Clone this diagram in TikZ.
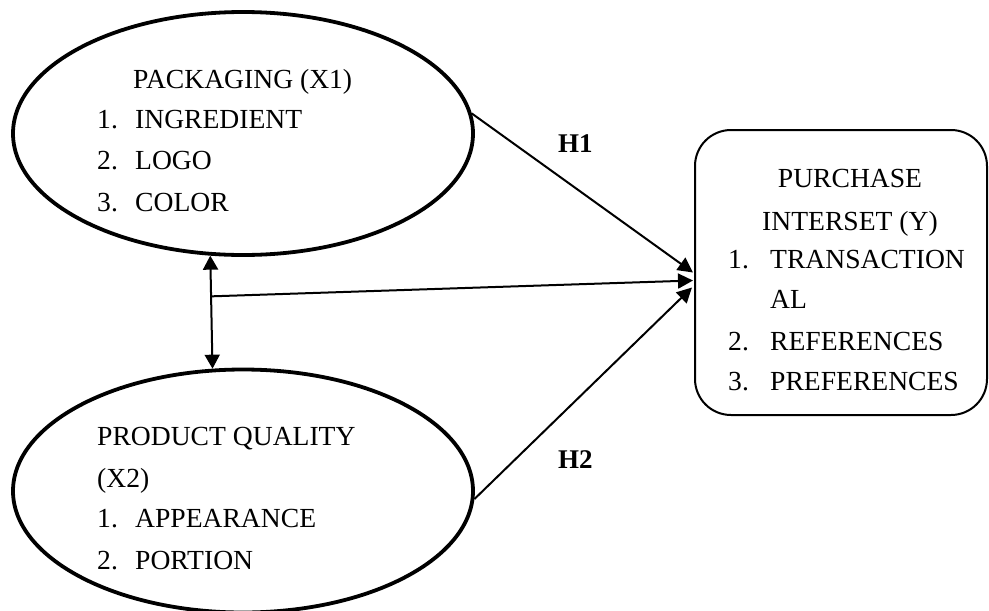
\documentclass[tikz,border=0pt]{standalone}
\usepackage{fontspec}
\setmainfont{Liberation Serif}
\usetikzlibrary{shapes.geometric,arrows.meta,calc}
\begin{document}
\begin{tikzpicture}[x=1pt,y=-1pt,
  txt/.style={anchor=base west,inner sep=0pt,font=\fontsize{27.6}{33}\selectfont},
  ctxt/.style={anchor=base,inner sep=0pt,font=\fontsize{27.6}{33}\selectfont},
  hlab/.style={anchor=base west,inner sep=0pt,font=\fontsize{27}{33}\selectfont\bfseries},
  oval/.style={draw,ellipse,line width=3.8pt,minimum width=460pt,minimum height=243pt,inner sep=0pt},
  rbox/.style={draw,rectangle,rounded corners=36pt,line width=2pt,minimum width=292pt,minimum height=285pt,inner sep=0pt},
  conn/.style={line width=2pt,-{Triangle[length=15pt,width=15pt]}},
  dconn/.style={line width=2pt,{Triangle[length=14pt,width=15pt]}-{Triangle[length=14pt,width=15pt]}}]
\useasboundingbox (0,0) rectangle (989,611);
% shapes
\node[oval] (e1) at (243,133.5) {};
\node[oval] (e2) at (243,491) {};
\node[rbox] (y) at (841,272.5) {};
% texts ellipse 1
\node[txt] (e1t) at (133,88) {PACKAGING (X1)};
\node[txt] (e1a) at (97,128) {\makebox[38pt][l]{1.}INGREDIENT};
\node[txt] (e1b) at (97,169) {\makebox[38pt][l]{2.}LOGO};
\node[txt] (e1c) at (97,211) {\makebox[38pt][l]{3.}COLOR};
% texts ellipse 2
\node[txt] (e2t) at (97,445) {PRODUCT QUALITY};
\node[txt] (e2u) at (97,487) {(X2)};
\node[txt] (e2a) at (97,527) {\makebox[38pt][l]{1.}APPEARANCE};
\node[txt] (e2b) at (97,569) {\makebox[38pt][l]{2.}PORTION};
% texts box
\node[ctxt] (yt) at (850,187) {PURCHASE};
\node[ctxt] (yu) at (850,230) {INTERSET (Y)};
\node[txt] (ya) at (728,268) {\makebox[42pt][l]{1.}TRANSACTION};
\node[txt] (yb) at (770,308) {AL};
\node[txt] (yc) at (728,350) {\makebox[42pt][l]{2.}REFERENCES};
\node[txt] (yd) at (728,390) {\makebox[42pt][l]{3.}PREFERENCES};
% labels
\node[hlab] (h1) at (558,152) {H1};
\node[hlab] (h2) at (558,468) {H2};
% connectors
\coordinate (p1) at ($(y.west)+(-1,0)$);
\coordinate (p2) at ($(y.west)+(-1,8)$);
\coordinate (p3) at ($(y.west)+(-2,15)$);
\draw[dconn] (e1.255.6) -- (e2.104.4) coordinate[pos=0.36] (m);
\draw[conn] (e1.5.4) -- (p1);
\draw[conn] (m) -- (p2);
\draw[conn] (e2.-2.7) -- (p3);
\end{tikzpicture}
\end{document}
